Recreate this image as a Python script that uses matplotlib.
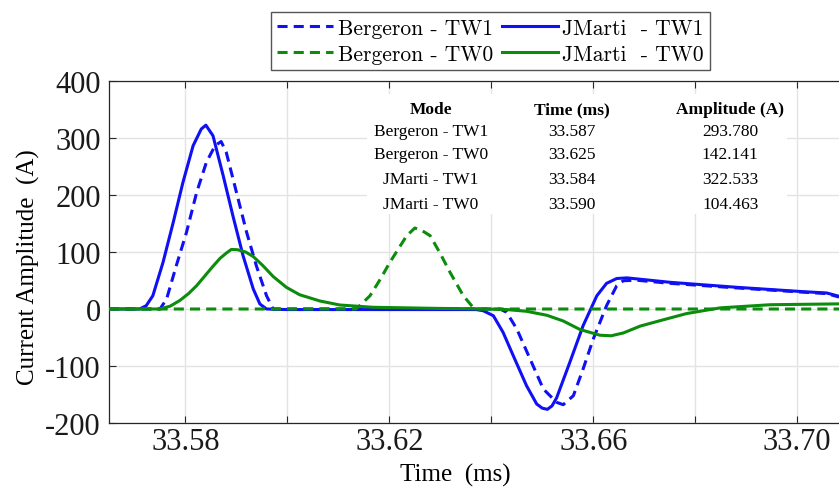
import matplotlib
matplotlib.use("Agg")
import matplotlib.pyplot as plt
import matplotlib.ticker as ticker
from matplotlib.patches import Rectangle

plt.rcParams['font.family'] = ['Liberation Serif', 'DejaVu Serif']
plt.rcParams['axes.unicode_minus'] = False

# traveling-wave currents, time in ms, current in A
berg_tw1_t = [33.5650, 33.5750, 33.5763, 33.5782, 33.5802, 33.5822, 33.5841, 33.5858, 33.5870,
              33.5880, 33.5900, 33.5920, 33.5939, 33.5959, 33.5972, 33.6200, 33.6417, 33.6430,
              33.6450, 33.6476, 33.6502, 33.6528, 33.6541, 33.6561, 33.6580, 33.6600, 33.6626,
              33.6646, 33.6659, 33.6685, 33.6751, 33.6881, 33.7012, 33.7058, 33.7082]
berg_tw1_i = [0, 0, 17.5, 76.0, 134.5, 204.7, 257.3, 286.5, 293.8,
              274.9, 204.7, 134.5, 76.0, 23.3, 0, 0, 0, -5.8,
              -35.1, -87.7, -140.4, -163.7, -167.9, -152.0, -105.3, -52.6, 5.8,
              40.9, 49.6, 50.5, 45.0, 37.0, 29.5, 27.0, 21.0]

jm_tw1_t = [33.5650, 33.5710, 33.5723, 33.5736, 33.5756, 33.5776, 33.5795, 33.5815, 33.5831,
            33.5840, 33.5854, 33.5874, 33.5893, 33.5913, 33.5933, 33.5946, 33.5959, 33.6000,
            33.6200, 33.6370, 33.6384, 33.6404, 33.6423, 33.6443, 33.6469, 33.6489, 33.6500,
            33.6510, 33.6519, 33.6528, 33.6554, 33.6580, 33.6607, 33.6626, 33.6646, 33.6666,
            33.6751, 33.6881, 33.7012, 33.7058, 33.7082]
jm_tw1_i = [0, 0, 5.8, 23.3, 81.9, 152.0, 222.0, 286.5, 315.8,
            322.5, 304.0, 233.9, 163.7, 93.5, 35.1, 8.8, 0, -1,
            -1, -1, -3, -11.8, -40.9, -81.9, -134.5, -166.7, -174,
            -176, -170, -156, -93.5, -29.3, 23.3, 45, 53.5, 54.6,
            46.8, 38.1, 30.4, 28.1, 22.3]

berg_tw0_t = [33.5650, 33.6134, 33.6142, 33.6162, 33.6182, 33.6201, 33.6218, 33.6234, 33.6250,
              33.6265, 33.6280, 33.6300, 33.6319, 33.6345, 33.6364, 33.6370, 33.7082]
berg_tw0_i = [0, 0, 5.8, 23.3, 52, 81.9, 106, 128.6, 142.1,
              137, 128.6, 97, 64.3, 23.3, 3, 0, 0]

jm_tw0_t = [33.5650, 33.5750, 33.5770, 33.5789, 33.5806, 33.5822, 33.5838, 33.5854, 33.5868,
            33.5880, 33.5890, 33.5902, 33.5918, 33.5933, 33.5952, 33.5972, 33.5998, 33.6024,
            33.6064, 33.6103, 33.6168, 33.6299, 33.6364, 33.6430, 33.6469, 33.6509, 33.6541,
            33.6574, 33.6613, 33.6635, 33.6659, 33.6692, 33.6737, 33.6783, 33.6849, 33.6947,
            33.7082]
jm_tw0_i = [0, 0, 5, 15, 27, 41, 58, 75, 89,
            98, 104.5, 104, 100, 92, 76, 57, 38, 25,
            14, 7, 3, 1, 0.5, -1, -4, -11, -21,
            -36, -46, -47, -42, -30, -19, -8, 2, 7.5,
            9]

# peak table
tbl_header = ['Mode', 'Time (ms)', 'Amplitude (A)']
tbl_mode = ['Bergeron - TW1', 'Bergeron - TW0', 'JMarti - TW1', 'JMarti - TW0']
tbl_time = ['33.587', '33.625', '33.584', '33.590']
tbl_amp = ['293.780', '142.141', '322.533', '104.463']

xticks = [33.58, 33.60, 33.62, 33.64, 33.66, 33.68, 33.70]
xticklabels = ['33.58', '', '33.62', '', '33.66', '', '33.70']
yticks = [-200, -100, 0, 100, 200, 300, 400]

blue = '#1010f5'
green = '#0c8c0c'

fig = plt.figure(figsize=(8.39, 4.89), dpi=100)
ax = fig.add_axes([109/839, 65/489, 730/839, 342/489])

dash = (3.3, 2.0)
lw = 2.2
l1, = ax.plot(berg_tw1_t, berg_tw1_i, color=blue, lw=lw, dashes=dash, zorder=3)
l2, = ax.plot(jm_tw1_t, jm_tw1_i, color=blue, lw=lw, zorder=3)
l3, = ax.plot(berg_tw0_t, berg_tw0_i, color=green, lw=lw, dashes=dash, zorder=3)
l4, = ax.plot(jm_tw0_t, jm_tw0_i, color=green, lw=lw, zorder=3)

ax.set_xlim(33.565, 33.7082)
ax.set_ylim(-200, 400)
ax.xaxis.set_major_locator(ticker.FixedLocator(xticks))
ax.xaxis.set_major_formatter(ticker.FixedFormatter(xticklabels))
ax.set_yticks(yticks)
ax.tick_params(direction='in', length=5, width=0.8, color='#262626', labelsize=22,
               top=True, labelcolor='#1a1a1a', pad=6)
ax.tick_params(axis='x', pad=3)
ax.grid(True, color='#e3e3e3', lw=1.0)
ax.set_axisbelow(True)
for s in ['left', 'bottom', 'top']:
    ax.spines[s].set_color('#262626')
    ax.spines[s].set_linewidth(0.9)
ax.spines['right'].set_visible(False)

ax.set_xlabel('Time  (ms)', fontsize=18)
ax.xaxis.set_label_coords(0.475, -0.118)
ax.set_ylabel('Current Amplitude  (A)', fontsize=18)
ax.yaxis.set_label_coords(-0.094, 0.46)

# white box behind the table
ax.add_patch(Rectangle((0.3534, 0.611), 0.5754, 0.351, transform=ax.transAxes,
                       facecolor='white', edgecolor='none', zorder=1))
col_x = [0.441, 0.634, 0.851]
row_y = [0.855, 0.787, 0.713, 0.640]
for x, h in zip(col_x, tbl_header):
    ax.text(x, 0.918, h, transform=ax.transAxes, ha='center', va='center',
            fontsize=12.5, fontweight='bold', zorder=4)
for y, m, t, a in zip(row_y, tbl_mode, tbl_time, tbl_amp):
    for x, s in zip(col_x, [m, t, a]):
        ax.text(x, y, s, transform=ax.transAxes, ha='center', va='center',
                fontsize=12.5, zorder=4)

# legend fills column by column: dashed on the left, solid on the right
leg = fig.legend([l1, l3, l2, l4],
                 ['Bergeron - TW1', 'Bergeron - TW0', 'JMarti  - TW1', 'JMarti  - TW0'],
                 ncol=2, loc='upper center', bbox_to_anchor=(0.5846, 0.9734),
                 prop={'family': 'cmr10', 'size': 15.5}, fancybox=False,
                 edgecolor='#555555', framealpha=1, borderpad=0.3, labelspacing=0.3,
                 handlelength=2.6, handletextpad=0.2, columnspacing=0.4, borderaxespad=0)
leg.get_frame().set_linewidth(1.0)

fig.savefig('out.png', dpi=100)
